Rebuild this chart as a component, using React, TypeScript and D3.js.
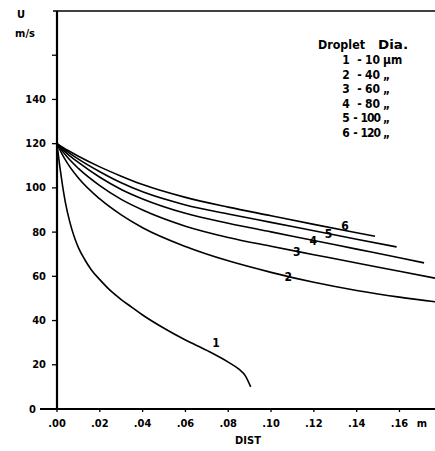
import React from "react";
import * as d3 from "d3";

// droplet speed U (m/s) against distance (m), one curve per droplet diameter
const x1 = [0, 0.001, 0.002, 0.003, 0.004, 0.006, 0.008, 0.01, 0.013, 0.016, 0.02, 0.025, 0.03, 0.035, 0.04, 0.05, 0.06, 0.07, 0.08, 0.085, 0.088, 0.0905];
const u1 = [120, 112, 105, 98.5, 93, 84.5, 78, 73, 67.5, 63, 58.5, 53.5, 49.5, 46, 42.5, 36.5, 31.2, 26.5, 21.2, 18, 15, 10];

const x2 = [0, 0.002, 0.005, 0.01, 0.02, 0.03, 0.04, 0.06, 0.08, 0.1, 0.12, 0.14, 0.16, 0.1766];
const u2 = [120, 116, 111, 104.5, 95, 87.8, 82, 73.5, 67, 61.8, 57.3, 53.6, 50.6, 48.5];

const x3 = [0, 0.002, 0.005, 0.01, 0.02, 0.03, 0.04, 0.06, 0.08, 0.1, 0.12, 0.14, 0.16, 0.1766];
const u3 = [120, 117.3, 113.7, 108.8, 101, 94.8, 90, 82.7, 77.6, 73.6, 69.8, 66, 62.3, 59.2];

const x4 = [0, 0.002, 0.005, 0.01, 0.02, 0.03, 0.04, 0.06, 0.08, 0.1, 0.12, 0.14, 0.16, 0.1715];
const u4 = [120, 118, 115.3, 111.5, 104.8, 99.3, 95, 88.5, 84, 80.1, 76.2, 72.3, 68.4, 66.1];

const x5 = [0, 0.002, 0.005, 0.01, 0.02, 0.03, 0.04, 0.06, 0.08, 0.1, 0.12, 0.14, 0.1587];
const u5 = [120, 118.5, 116.3, 113, 107.3, 102.3, 98.2, 92.3, 88.2, 84.4, 80.6, 76.8, 73.3];

const x6 = [0, 0.002, 0.005, 0.01, 0.02, 0.03, 0.04, 0.06, 0.08, 0.1, 0.12, 0.14, 0.1486];
const u6 = [120, 118.7, 117, 114.3, 109.5, 105.3, 101.5, 95.7, 91.3, 87.4, 83.5, 79.7, 78.1];

// curve number labels, in data units
const curveIds = ["1", "2", "3", "4", "5", "6"];
const labelX = [0.0743, 0.108, 0.112, 0.1197, 0.1268, 0.1346];
const labelU = [29.7, 59.6, 71.2, 76.1, 79, 82.8];

const legendDia = ["10", "40", "60", "80", "100", "120"];
const legendUnit = ["µm", "„", "„", "„", "„", "„"];

const xTicks = [0, 0.02, 0.04, 0.06, 0.08, 0.1, 0.12, 0.14, 0.16];
const xTickLabels = [".00", ".02", ".04", ".06", ".08", ".10", ".12", ".14", ".16"];
const yTicks = [0, 20, 40, 60, 80, 100, 120, 140, 160];
const yTickLabels = ["0", "20", "40", "60", "80", "100", "120", "140", ""];

const font = "'DejaVu Sans Condensed', 'DejaVu Sans', sans-serif";

export default function App() {
  const width = 435;
  const height = 451;

  const x = d3.scaleLinear().domain([0, 0.1766]).range([57, 435]);
  const y = d3.scaleLinear().domain([0, 180]).range([409, 11]);

  const series = [
    [x1, u1],
    [x2, u2],
    [x3, u3],
    [x4, u4],
    [x5, u5],
    [x6, u6],
  ];

  const line = d3
    .line<number[]>()
    .x((d) => x(d[0]))
    .y((d) => y(d[1]))
    .curve(d3.curveMonotoneX);

  const x0 = x(0);
  const yBase = y(0);

  return (
    <svg
      width={width}
      height={height}
      style={{ position: "absolute", left: 0, top: 0, background: "#fff" }}
      fontFamily={font}
      fontWeight="bold"
      fontSize={11}
    >
      <rect width={width} height={height} fill="#fff" />

      {/* frame: left axis, top line, bottom axis */}
      <line x1={x0} x2={x0} y1={y(180)} y2={yBase} stroke="#000" strokeWidth={2.2} />
      <line x1={x0 - 4} x2={width} y1={y(180)} y2={y(180)} stroke="#000" strokeWidth={1.6} />
      <line x1={40} x2={width} y1={yBase} y2={yBase} stroke="#000" strokeWidth={1.8} />

      {yTicks.map((t, i) => (
        <g key={"y" + t}>
          <line x1={x0 - 5} x2={x0 + 1} y1={y(t)} y2={y(t)} stroke="#000" strokeWidth={1.3} />
          <text
            x={t === 0 ? 36 : 46}
            y={y(t)}
            textAnchor="end"
            dominantBaseline="central"
          >
            {yTickLabels[i]}
          </text>
        </g>
      ))}

      {xTicks.map((t, i) => (
        <g key={"x" + t}>
          <line x1={x(t)} x2={x(t)} y1={yBase - 1} y2={yBase + 3} stroke="#000" strokeWidth={1.3} />
          <text x={x(t)} y={423} textAnchor="middle" dominantBaseline="central">
            {xTickLabels[i]}
          </text>
        </g>
      ))}
      <text x={422} y={423} textAnchor="middle" dominantBaseline="central">
        m
      </text>
      <text x={248} y={440} textAnchor="middle" dominantBaseline="central">
        DIST
      </text>

      <text x={21} y={14} textAnchor="middle" dominantBaseline="central">
        U
      </text>
      <text x={25} y={33} textAnchor="middle" dominantBaseline="central">
        m/s
      </text>

      {series.map(([xs, us], i) => (
        <path
          key={"c" + i}
          d={line(xs.map((v, j) => [v, us[j]])) || ""}
          fill="none"
          stroke="#000"
          strokeWidth={1.6}
        />
      ))}

      {curveIds.map((id, i) => (
        <text
          key={"l" + id}
          x={x(labelX[i])}
          y={y(labelU[i])}
          textAnchor="middle"
          dominantBaseline="central"
          fontSize={12}
        >
          {id}
        </text>
      ))}

      {/* legend */}
      <g fontSize={12}>
        <text x={318} y={44.5} dominantBaseline="central" textLength={47} lengthAdjust="spacingAndGlyphs">
          Droplet
        </text>
        <text x={378} y={44.5} dominantBaseline="central" textLength={30} lengthAdjust="spacingAndGlyphs">
          Dia.
        </text>
        {curveIds.map((id, i) => {
          const ry = 60 + i * 14.6;
          const wide = legendDia[i].length > 2;
          return (
            <g key={"lg" + id}>
              <text x={346} y={ry} textAnchor="middle" dominantBaseline="central">
                {id}
              </text>
              <text x={wide ? 355.5 : 359.5} y={ry} textAnchor="middle" dominantBaseline="central">
                -
              </text>
              <text
                x={380}
                y={ry}
                textAnchor="end"
                dominantBaseline="central"
                letterSpacing={wide ? -1 : 0}
              >
                {legendDia[i]}
              </text>
              <text x={383} y={ry} dominantBaseline="central">
                {legendUnit[i]}
              </text>
            </g>
          );
        })}
      </g>
    </svg>
  );
}
